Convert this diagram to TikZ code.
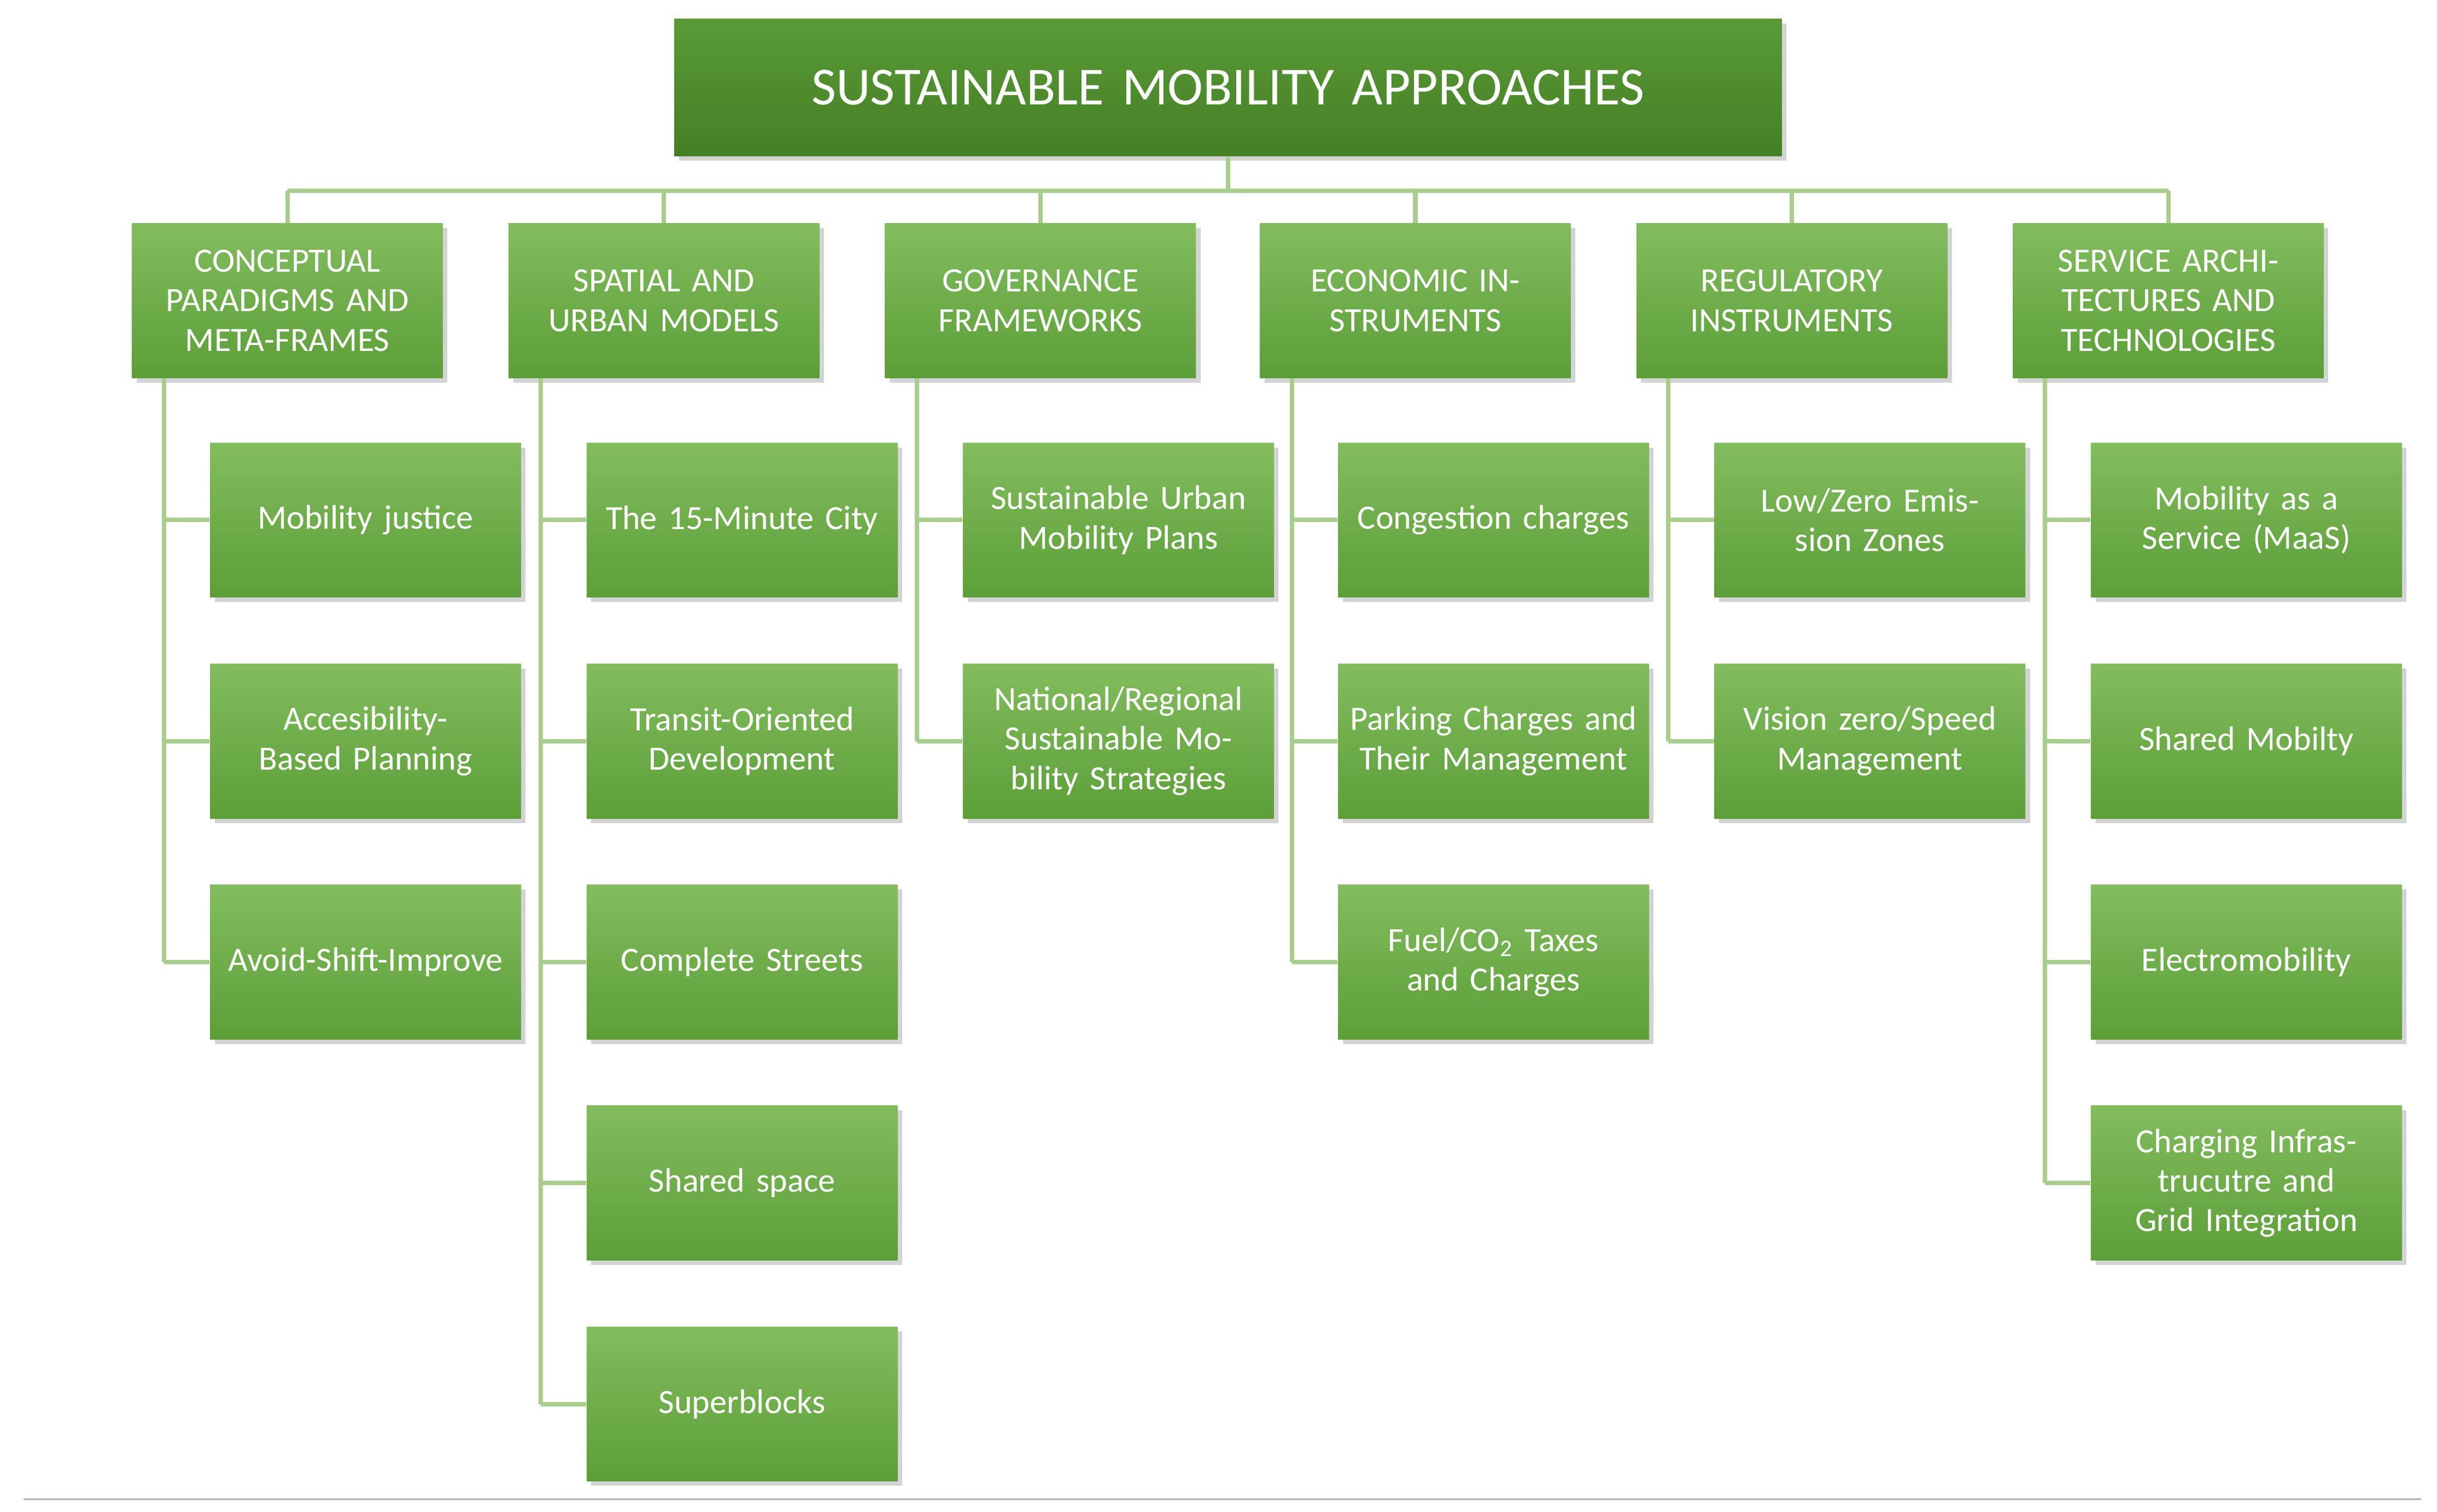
\documentclass[tikz,border=0pt]{standalone}
\usepackage{fontspec}
\setmainfont{Carlito}
\usetikzlibrary{positioning,shadows}
\definecolor{boxtop}{HTML}{82BC5E}
\definecolor{boxbot}{HTML}{5C9F38}
\definecolor{ttop}{HTML}{5A9A36}
\definecolor{tbot}{HTML}{447F26}
\definecolor{wire}{HTML}{A8CD8C}
\tikzset{
  box/.style={draw=none,top color=boxtop,bottom color=boxbot,text=white,
    minimum width=3.98cm,minimum height=1.98cm,text width=3.8cm,align=center,
    inner sep=0pt,font=\fontsize{12.4}{14.4}\selectfont,
    drop shadow={shadow xshift=0.06cm,shadow yshift=-0.06cm,opacity=0.35}},
  wire/.style={draw=wire,line width=1.6pt}
}
\begin{document}
\begin{tikzpicture}[x=0.02cm,y=-0.02cm]
    \useasboundingbox (0,0) rectangle (1560,968);
    \node[box,top color=ttop,bottom color=tbot,minimum width=14.18cm,minimum height=1.76cm,
      text width=14cm,font=\fontsize{19.5}{22}\selectfont] (title) at (786,56) {SUSTAINABLE MOBILITY APPROACHES};
    \coordinate (bus) at (786,122);
    \draw[wire] (title.south) -- (bus);
    \draw[wire] (184,122) -- (1388,122);
    % categories
    \foreach \i/\x/\t in {1/184/{CONCEPTUAL PARADIGMS AND META-FRAMES},
                          2/425/{SPATIAL AND URBAN MODELS},
                          3/666/{GOVERNANCE FRAMEWORKS},
                          4/906/{ECONOMIC INSTRUMENTS},
                          5/1147/{REGULATORY INSTRUMENTS},
                          6/1388/{SERVICE ARCHITECTURES AND TECHNOLOGIES}}{
      \coordinate (top\i) at (\x,122);
      \node[box] (cat\i) at (\x,192.5) {\t};
      \draw[wire] (top\i) -- (cat\i.north);
    }
    % children
    \foreach \i/\x/\n/\t in {
      1/184/1/{Mobility justice}, 1/184/2/{Accesibility-Based Planning}, 1/184/3/{Avoid-Shift-Improve},
      2/425/1/{The 15-Minute City}, 2/425/2/{Transit-Oriented Development}, 2/425/3/{Complete Streets},
      2/425/4/{Shared space}, 2/425/5/{Superblocks},
      3/666/1/{Sustainable Urban Mobility Plans}, 3/666/2/{National/Regional Sustainable Mobility Strategies},
      4/906/1/{Congestion charges}, 4/906/2/{Parking Charges and Their Management},
      4/906/3/{Fuel/CO\textsubscript{2} Taxes and Charges},
      5/1147/1/{Low/Zero Emission Zones}, 5/1147/2/{Vision zero/Speed Management},
      6/1388/1/{Mobility as a Service (MaaS)}, 6/1388/2/{Shared Mobilty}, 6/1388/3/{Electromobility},
      6/1388/4/{Charging Infrastrucutre and Grid Integration}}{
      \pgfmathsetmacro{\cy}{333+141.5*(\n-1)}
      \node[box] (c\i-\n) at (\x+50,\cy) {\t};
      \coordinate (s\i-\n) at (\x-79,\cy);
      \draw[wire] (s\i-\n) -- (c\i-\n.west);
    }
    \foreach \i/\n in {1/3,2/5,3/2,4/3,5/2,6/4}{
      \draw[wire] (cat\i.south -| s\i-\n) -- (s\i-\n);
    }
    \draw[gray!60,line width=0.6pt] (15,960) -- (1550,960);
\end{tikzpicture}
\end{document}
